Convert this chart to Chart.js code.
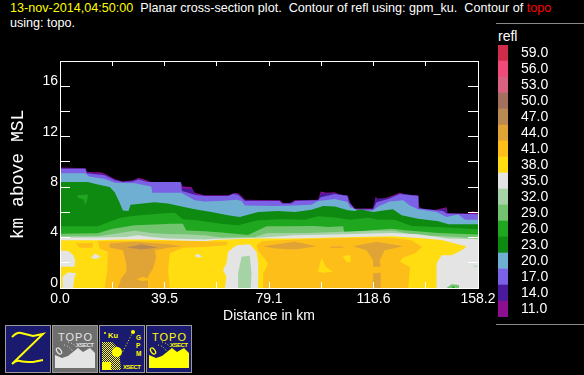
<!DOCTYPE html>
<html>
<head>
<meta charset="utf-8">
<title>refl cross-section</title>
<script src="https://cdn.jsdelivr.net/npm/chart.js@4"></script>
<style>
    body { margin: 0; background: #000; width: 584px; height: 375px; overflow: hidden; position: relative; font-family: "Liberation Sans", sans-serif; color: #fff; }
    canvas { position: absolute; left: 0; top: 0; }
    #plotWrap { position: absolute; left: 0; top: 0; width: 584px; height: 375px; }
    #barWrap { position: absolute; left: 498px; top: 45px; width: 86px; height: 272px; }
    .head { position: absolute; left: 10px; font-size: 12.6px; white-space: pre; line-height: 15px; }
    .rule { position: absolute; left: 496px; width: 88px; height: 1px; background: #8a8a8a; }
    .icon { position: absolute; top: 325px; }
</style>
</head>
<body>
<div class="head" style="top:1px"><span style="color:#ffff00">13-nov-2014,04:50:00</span>  Planar cross-section plot.  Contour of refl using: gpm_ku.  Contour of <span style="color:#ff0000">topo</span></div>
<div class="head" style="top:16px">using: topo.</div>
<div class="rule" style="top:23px"></div>
<div class="rule" style="top:324px"></div>
<div style="position:absolute;left:498px;top:28px;font-size:14px">refl</div>

<div id="plotWrap"><canvas id="plot" width="584" height="375"></canvas></div>
<div id="barWrap"><canvas id="bar" width="86" height="272"></canvas></div>

<!-- buttons under the plot -->
<svg class="icon" style="left:5px" width="46" height="48">
    <rect x="0.5" y="0.5" width="45" height="47" fill="#1a1a6e" stroke="#9a9a9a"/>
    <path d="M7 12 Q12 7 16 8 T28 11 L38 9 L7 39 Q11 35 15 36 T28 37 L38 35" fill="none" stroke="#ffff00" stroke-width="2"/>
</svg>
<svg class="icon" style="left:52px" width="46" height="48">
    <rect x="0.5" y="0.5" width="45" height="47" fill="#6e6e6e" stroke="#9a9a9a"/>
    <text x="6" y="16" font-size="11" textLength="34" fill="#e4e4e4">TOPO</text>
    <text x="24" y="22" font-size="6" font-weight="bold" textLength="18" fill="#e4e4e4">XSECT</text>
    <polygon points="3,43 3,30 10,33 16,31 26,23 31,27 38,23 43,28 43,43" fill="#e4e4e4"/>
    <ellipse cx="7" cy="26" rx="2" ry="3.5" transform="rotate(-35 7 26)" fill="none" stroke="#e4e4e4" stroke-width="1.2"/>
    <path d="M12 20 Q18 21 21 27 M16 17 Q23 19 26 24" fill="none" stroke="#e4e4e4" stroke-dasharray="1 2"/>
</svg>
<svg class="icon" style="left:99px" width="46" height="48">
    <defs>
        <pattern id="dither" width="2" height="2" patternUnits="userSpaceOnUse">
            <rect width="1" height="1" fill="#ffff00"/><rect x="1" y="1" width="1" height="1" fill="#ffff00"/>
        </pattern>
    </defs>
    <rect x="0.5" y="0.5" width="45" height="47" fill="#1a1a6e" stroke="#9a9a9a"/>
    <text x="9" y="13" font-size="7.5" font-weight="bold" fill="#ffff00">Ku</text>
    <circle cx="6" cy="8" r="1" fill="#ffff00"/>
    <polygon points="3,17 13,17 20,24 22,45 3,45" fill="url(#dither)"/>
    <circle cx="18" cy="27" r="5" fill="#ffff00"/>
    <rect x="3" y="37" width="9" height="8" fill="#ffff00"/>
    <path d="M34 7 L23 28" stroke="#ffff00" stroke-dasharray="1 2" fill="none"/>
    <circle cx="34" cy="7" r="2" fill="#ffff00"/>
    <text x="37" y="15" font-size="6.5" font-weight="bold" fill="#ffff00">G</text>
    <text x="37" y="23" font-size="6.5" font-weight="bold" fill="#ffff00">P</text>
    <text x="37" y="31" font-size="6.5" font-weight="bold" fill="#ffff00">M</text>
    <text x="24" y="44" font-size="6" font-weight="bold" textLength="18" fill="#ffff00">XSECT</text>
</svg>
<svg class="icon" style="left:146px" width="46" height="48">
    <rect x="0.5" y="0.5" width="45" height="47" fill="#1a1a6e" stroke="#9a9a9a"/>
    <text x="6" y="16" font-size="11" textLength="34" fill="#ffff00">TOPO</text>
    <text x="24" y="22" font-size="6" font-weight="bold" textLength="18" fill="#ffff00">XSECT</text>
    <polygon points="3,43 3,30 10,33 16,31 26,23 31,27 38,23 43,28 43,43" fill="#ffff00"/>
    <ellipse cx="7" cy="26" rx="2" ry="3.5" transform="rotate(-35 7 26)" fill="none" stroke="#ffff00" stroke-width="1.2"/>
    <path d="M12 20 Q18 21 21 27 M16 17 Q23 19 26 24" fill="none" stroke="#ffff00" stroke-dasharray="1 2"/>
</svg>

<script>
// axis ticks
const xMax = 158.2;
const yMax = 18;
const xTicks = [0, 19.77, 39.55, 59.32, 79.1, 98.87, 118.65, 138.42, 158.2];
const xTickLabels = ['0.0', '', '39.5', '', '79.1', '', '118.6', '', '158.2'];
const yTicks = [0, 2, 4, 6, 8, 10, 12, 14, 16, 18];
const yTickLabels = ['0', '', '4', '', '8', '', '12', '', '16', ''];

// colour bar
const levels = ['59.0', '56.0', '53.0', '50.0', '47.0', '44.0', '41.0', '38.0', '35.0', '32.0', '29.0', '26.0', '23.0', '20.0', '17.0', '14.0', '11.0'];
const levelColors = ['#cf2b4a', '#f04b78', '#d8627f', '#a37060', '#bb8a50', '#e0a436', '#fdbe1a', '#ffdd10', '#e4e4e4', '#a6d3a6', '#73c46e', '#1fa81f', '#0f8a10', '#6fb0d2', '#7b61e6', '#4a1a9c', '#8b0f8f'];
const c = {};
levels.forEach((l, i) => { c[parseInt(l)] = levelColors[i]; });

// upper edge of each contour band, [km along, km above MSL]
const top11 = [[0, 9.55], [9.6, 9.5], [10.2, 9.2], [15.8, 9.15], [17, 9.05], [20.7, 8.65], [23.8, 8.45], [27.6, 8.55], [29.8, 8.75], [31.4, 8.65], [34.5, 8.4], [45.7, 8.4], [46.5, 8.05], [49.7, 8], [51, 7.55], [54.8, 7.35], [63.6, 7.35], [66.4, 7.55], [67.4, 7.5], [68.7, 7.3], [70, 7], [83.2, 6.95], [84.5, 6.75], [87, 6.75], [88.9, 6.95], [97.7, 7], [98.7, 7.65], [100.9, 7.55], [104, 7.6], [105.9, 7.4], [108.8, 7.35], [110, 6.7], [111.6, 6.3], [118.5, 6.3], [119.5, 7.25], [120.2, 7], [124.2, 7.2], [128.6, 7.55], [131.2, 7.4], [135.6, 7.35], [136, 6.4], [138.1, 6.2], [142.5, 6.2], [146.3, 6.4], [146.7, 5.9], [155.2, 5.9], [156, 6.1], [158.2, 5.9]];
const top14 = [[0, 9.5], [9.6, 9.47], [10.2, 9.15], [16.9, 9], [20.7, 8.6], [23.8, 8.42], [27.6, 8.5], [29.8, 8.68], [33, 8.4], [45.7, 8.4], [46.3, 7.9], [50, 7.85], [51, 7.45], [54.8, 7.32], [63.6, 7.32], [65.5, 7.5], [67.4, 7.45], [70, 6.95], [83.2, 6.92], [84.3, 6.72], [87.3, 6.72], [89, 6.92], [97.7, 6.97], [98.7, 7.5], [104, 7.52], [107.8, 7.35], [108.8, 7.32], [109.6, 6.75], [111.6, 6.27], [118.5, 6.27], [119.6, 7.1], [124.2, 7.12], [128.6, 7.5], [135.6, 7.32], [135.8, 6.35], [142.5, 6.15], [146, 6.3], [146.5, 5.88], [158.2, 5.87]];
const top17 = [[0, 9.45], [9.6, 9.45], [10.2, 9.1], [16.9, 8.95], [20.7, 8.55], [23.8, 8.4], [27.6, 8.45], [29.8, 8.6], [33, 8.4], [45.7, 8.4], [46.2, 7.7], [51, 7.4], [54.8, 7.3], [63.6, 7.3], [65.5, 7.45], [67.4, 7.4], [70, 6.9], [83.2, 6.9], [84, 6.7], [87.6, 6.7], [89, 6.9], [97.7, 6.95], [98.7, 7.2], [104, 7.45], [108.8, 7.3], [109.3, 6.8], [111.6, 6.25], [118.5, 6.25], [119.8, 6.8], [124.2, 7.05], [128.6, 7.45], [135.6, 7.3], [135.7, 6.3], [145, 6.1], [146.3, 5.9], [158.2, 5.85]];
const top20 = [[0, 9.1], [9.5, 9.1], [11, 8.85], [16.9, 8.65], [20.7, 8.35], [28.2, 8.3], [34.5, 8.05], [35, 7.55], [45.9, 7.55], [51, 6.95], [54.8, 6.85], [60.5, 6.9], [66.8, 7], [68.7, 6.9], [70, 6.55], [81.3, 6.5], [88.9, 6.55], [95.2, 6.6], [97.7, 6.9], [104, 7.05], [108.8, 6.82], [109.7, 6.42], [112.8, 6.15], [118.5, 6.15], [120.4, 6.47], [124.8, 6.85], [129.9, 6.95], [132.4, 6.55], [135.6, 6.24], [142.5, 6.03], [146.3, 5.63], [150.7, 5.82], [153.3, 5.42], [158.2, 5.42]];
const top23 = [[0, 8.4], [10.5, 8.4], [14.3, 8.2], [18.8, 8], [20.7, 7.6], [22.5, 6.8], [23.8, 6.15], [25.9, 6.1], [26.7, 6.6], [35.8, 6.8], [40.9, 6.7], [46.5, 6.45], [51, 6.24], [57.3, 6.03], [63.6, 5.76], [68, 5.63], [75, 6.03], [82.6, 6.1], [88.9, 6.03], [95.2, 6.21], [99.6, 6.5], [104, 6.47], [109, 6.16], [111.6, 6.1], [113.5, 6.24], [118.5, 6.03], [123, 6.16], [126, 6.24], [129.3, 5.76], [135.6, 5.5], [143.2, 5.29], [147, 5.05], [158.2, 5.05]];
const top26 = [[0, 4.9], [14.3, 4.9], [17.5, 5.15], [23.2, 5.6], [29.5, 5.75], [38.3, 5.9], [43.4, 5.97], [46.5, 5.45], [51, 5.4], [61, 5.1], [67.4, 4.97], [75, 5.37], [83.8, 5.45], [92.7, 5.42], [97.7, 5.68], [104, 5.6], [109.7, 5.42], [116.6, 5.58], [120.4, 5.42], [126.7, 5.42], [133, 4.92], [143.2, 4.84], [158.2, 4.65]];
const top29 = [[0, 4.3], [14.3, 4.35], [20, 4.7], [28.2, 4.97], [35.8, 5.03], [42.1, 5.1], [46.5, 5.1], [47.8, 4.55], [54.8, 4.5], [61, 4.4], [71.2, 4.2], [75, 4.58], [78.2, 4.9], [86.4, 4.9], [96.5, 4.92], [101.5, 4.84], [107.2, 4.9], [107.5, 4.4], [117.9, 4.58], [125.5, 4.7], [130.5, 4.58], [143.2, 4.37], [158.2, 4.25]];
const top32 = [[0, 4.1], [14.3, 4.1], [20.7, 4.3], [28.2, 4.53], [34.5, 4.37], [42.1, 4.26], [47.2, 4.26], [54.8, 4.18], [61, 4], [73.7, 4.05], [78.2, 4.35], [94, 4.37], [104, 4.45], [117.9, 4.53], [126.7, 4.53], [134.3, 4.18], [145.7, 4.1], [158.2, 3.92]];
const top35 = [[0, 4], [14.3, 4], [25, 4.05], [29.5, 4.18], [34.5, 4.05], [40.9, 3.92], [54.8, 3.84], [58.6, 3.9], [73.7, 3.97], [88.9, 4.18], [104, 4.24], [125.5, 4.37], [135.6, 4.26], [147, 3.92], [158.2, 3.87]];
const top38 = [[0, 3.78], [14.3, 3.78], [23, 3.84], [33, 3.84], [40.9, 3.78], [54.8, 3.7], [58.6, 3.8], [73.7, 3.92], [88.9, 3.92], [104, 4], [125.5, 4.1], [135.6, 3.97], [144.4, 3.8], [153.9, 3.3], [152, 3], [148.2, 2.6], [144.4, 2.6], [142.5, 1.95], [142.5, 0]];

// closed patches inside the bands
const orangeMid = [[14.3, 3.7], [15, 3.13], [18.1, 2.87], [17.9, 1.42], [16.9, 0], [41.5, 0], [40.9, 1.42], [41.5, 2.74], [46.5, 3.2], [54.2, 3.26], [63, 3.39], [63.6, 3.66], [40, 3.75]];
const orangeLeft = [[6.1, 3.53], [12.4, 3.58], [12.4, 3.2], [7.4, 3.2]];
const orangeRight = [[76.3, 3.71], [88.9, 3.84], [107.8, 3.97], [124.2, 4], [133, 3.79], [137.1, 3.26], [134.3, 2.74], [129.9, 2.42], [128.6, 2.08], [132.4, 1.68], [131.8, 0], [76.9, 0], [76.9, 1.16], [78.8, 1.95], [76.9, 2.47], [75, 2.95], [74.4, 3.39]];
const orangeNotch = [[28.9, 0.7], [31.4, 0.9], [35, 0.65], [31.4, 0.55]];
const yellowBlobA = [[97.6, 1.29], [99, 2.37], [100.5, 1.7], [103.3, 1.29], [100, 1.2]];
const yellowBlobB = [[107, 2.55], [110, 2.6], [110, 2.05], [108.5, 2.05]];
const amberCentre = [[18.8, 3.53], [28.2, 3.66], [40.9, 3.47], [46.5, 3.32], [41.5, 3.21], [35.8, 3], [36.4, 2.47], [35.2, 1.55], [33.3, 0.89], [33.3, 0], [21.9, 0], [23.2, 0.76], [25.1, 1.29], [25.1, 1.95], [23.8, 3], [18.8, 3.21]];
const amberMid = [[76.9, 3.32], [88.9, 3.66], [97.1, 3.32], [88.9, 3.05], [81.3, 3.13]];
const amberThin = [[102.2, 3.3], [107.2, 3.3], [107.2, 3.2], [102.2, 3.2]];
const amberRight = [[110.9, 3.32], [119.8, 3.66], [129.9, 3.32], [122.9, 3], [121, 2.21], [121.4, 1.68], [118.5, 1.68], [118.5, 2.21], [116, 3]];
const amberStem = [[118.5, 1.16], [121.4, 1.2], [121.4, 0], [118.3, 0]];
const brownCore = [[25.1, 3.21], [30.8, 3.47], [37.2, 3.21], [30.8, 3.05]];
const greyLeft = [[0, 2.95], [3, 2.95], [5, 2.6], [5.75, 2.21], [5.5, 1.68], [0, 1.68]];
const greyFoot = [[1, 0], [1, 0.89], [3, 1.24], [6.1, 1.16], [5.5, 0.89], [4.9, 0]];
const greySpotA = [[11.6, 2.4], [13.3, 2.74], [15.3, 2.47], [13.7, 2.29]];
const greySpotB = [[51, 2.55], [52.2, 2.74], [53.8, 2.47], [52.2, 2.4]];
const greyBell = [[62.4, 0], [63, 0.89], [61.7, 1.42], [63, 1.95], [63.6, 2.87], [66.8, 3.39], [71.8, 3.47], [74.4, 2.87], [75, 1.95], [75, 0]];
const paleBell = [[67.4, 0], [67.4, 1.16], [68.7, 2.47], [71.8, 2.55], [72.5, 1.16], [72.2, 0]];
const paleFoot = [[146.3, 0], [148.2, 0.29], [151, 0.24], [151, 0]];
const greenFoot = [[148.3, 0], [148.8, 0.15], [149.4, 0]];
const paleStripe = [[156.4, 1.78], [158.2, 1.75], [158.2, 1.68], [156.4, 1.7]];
const greenTuft = [[6.4, 7.34], [10.5, 7.42], [10.5, 7.16], [9.5, 6.56], [9, 7], [6.9, 7.16]];

// back to front
function toGround(edge) {
    const last = edge[edge.length - 1];
    return last[1] === 0 ? edge.concat([[0, 0]]) : edge.concat([[xMax, 0], [0, 0]]);
}
const regions = [
    [toGround(top11), c[11]], [toGround(top14), c[14]], [toGround(top17), c[17]], [toGround(top20), c[20]],
    [toGround(top23), c[23]], [greenTuft, c[26]], [toGround(top26), c[26]], [toGround(top29), c[29]],
    [toGround(top32), c[32]], [toGround(top35), c[35]], [toGround(top38), c[38]],
    [orangeMid, c[41]], [orangeLeft, c[41]], [orangeRight, c[41]],
    [yellowBlobA, c[38]], [yellowBlobB, c[38]],
    [amberCentre, c[44]], [amberMid, c[44]], [amberThin, c[44]], [amberRight, c[44]], [amberStem, c[44]],
    [orangeNotch, c[41]], [brownCore, c[47]],
    [greyLeft, c[35]], [greyFoot, c[35]], [greySpotA, c[35]], [greySpotB, c[35]], [greyBell, c[35]],
    [paleBell, c[32]], [paleFoot, c[29]], [greenFoot, c[26]], [paleStripe, c[32]]
];

// the filler paints the highest dataset index first
const datasets = regions.map(r => ({
    data: r[0],
    backgroundColor: r[1],
    fill: 'shape',
    showLine: true,
    borderWidth: 0,
    pointRadius: 0,
    tension: 0
})).reverse();

function axisParts(tickLen) {
    return {
        grid: { color: '#fff', drawOnChartArea: false, tickLength: tickLen, tickWidth: 1, z: 1 },
        border: { color: '#fff', width: 1, z: 1 }
    };
}
const labelFont = { family: 'Liberation Sans', size: 14 };

new Chart(document.getElementById('plot'), {
    type: 'scatter',
    data: { datasets: datasets },
    options: {
        responsive: false,
        animation: false,
        layout: { padding: { left: 0, right: 106, top: 61, bottom: 0 } },
        plugins: { legend: { display: false }, tooltip: { enabled: false } },
        scales: {
            x: {
                type: 'linear', position: 'bottom', min: 0, max: xMax,
                ...axisParts(-6),
                afterBuildTicks: a => { a.ticks = xTicks.map(v => ({ value: v })); },
                afterFit: a => { a.height = 87; },
                ticks: { color: '#fff', font: labelFont, padding: 9, maxRotation: 0, autoSkip: false, callback: (v, i) => xTickLabels[i] },
                title: { display: true, text: 'Distance in km', color: '#fff', font: labelFont, padding: { top: 0, bottom: 50 } }
            },
            x2: {
                type: 'linear', position: 'top', min: 0, max: xMax,
                ...axisParts(-5),
                afterBuildTicks: a => { a.ticks = xTicks.map(v => ({ value: v })); },
                afterFit: a => { a.height = 0; },
                ticks: { autoSkip: false, callback: () => '' }
            },
            y: {
                type: 'linear', position: 'left', min: 0, max: yMax,
                ...axisParts(-10),
                afterBuildTicks: a => { a.ticks = yTicks.map(v => ({ value: v })); },
                afterFit: a => { a.width = 60; },
                ticks: { color: '#fff', font: labelFont, padding: 12, labelOffset: -5, autoSkip: false, callback: (v, i) => yTickLabels[i] },
                title: { display: true, text: 'km above MSL', color: '#fff', font: { family: 'Liberation Mono', size: 18 }, padding: { top: 7, bottom: 0 } }
            },
            y2: {
                type: 'linear', position: 'right', min: 0, max: yMax,
                ...axisParts(-10),
                afterBuildTicks: a => { a.ticks = yTicks.map(v => ({ value: v })); },
                afterFit: a => { a.width = 0; },
                ticks: { autoSkip: false, callback: () => '' }
            }
        }
    }
});

// colour bar, one bar per level
new Chart(document.getElementById('bar'), {
    type: 'bar',
    data: {
        labels: levels,
        datasets: [{ data: levels.map(() => 1), backgroundColor: levelColors, barPercentage: 1, categoryPercentage: 1, borderWidth: 0 }]
    },
    options: {
        indexAxis: 'y',
        responsive: false,
        animation: false,
        layout: { padding: 0 },
        plugins: { legend: { display: false }, tooltip: { enabled: false } },
        scales: {
            x: { display: false, min: 0, max: 1 },
            y: {
                position: 'right',
                afterFit: a => { a.width = 76; a.paddingTop = 0; a.paddingBottom = 0; },
                grid: { display: false },
                border: { display: false },
                ticks: { color: '#fff', font: labelFont, padding: 5, autoSkip: false }
            }
        }
    }
});
</script>
</body>
</html>
